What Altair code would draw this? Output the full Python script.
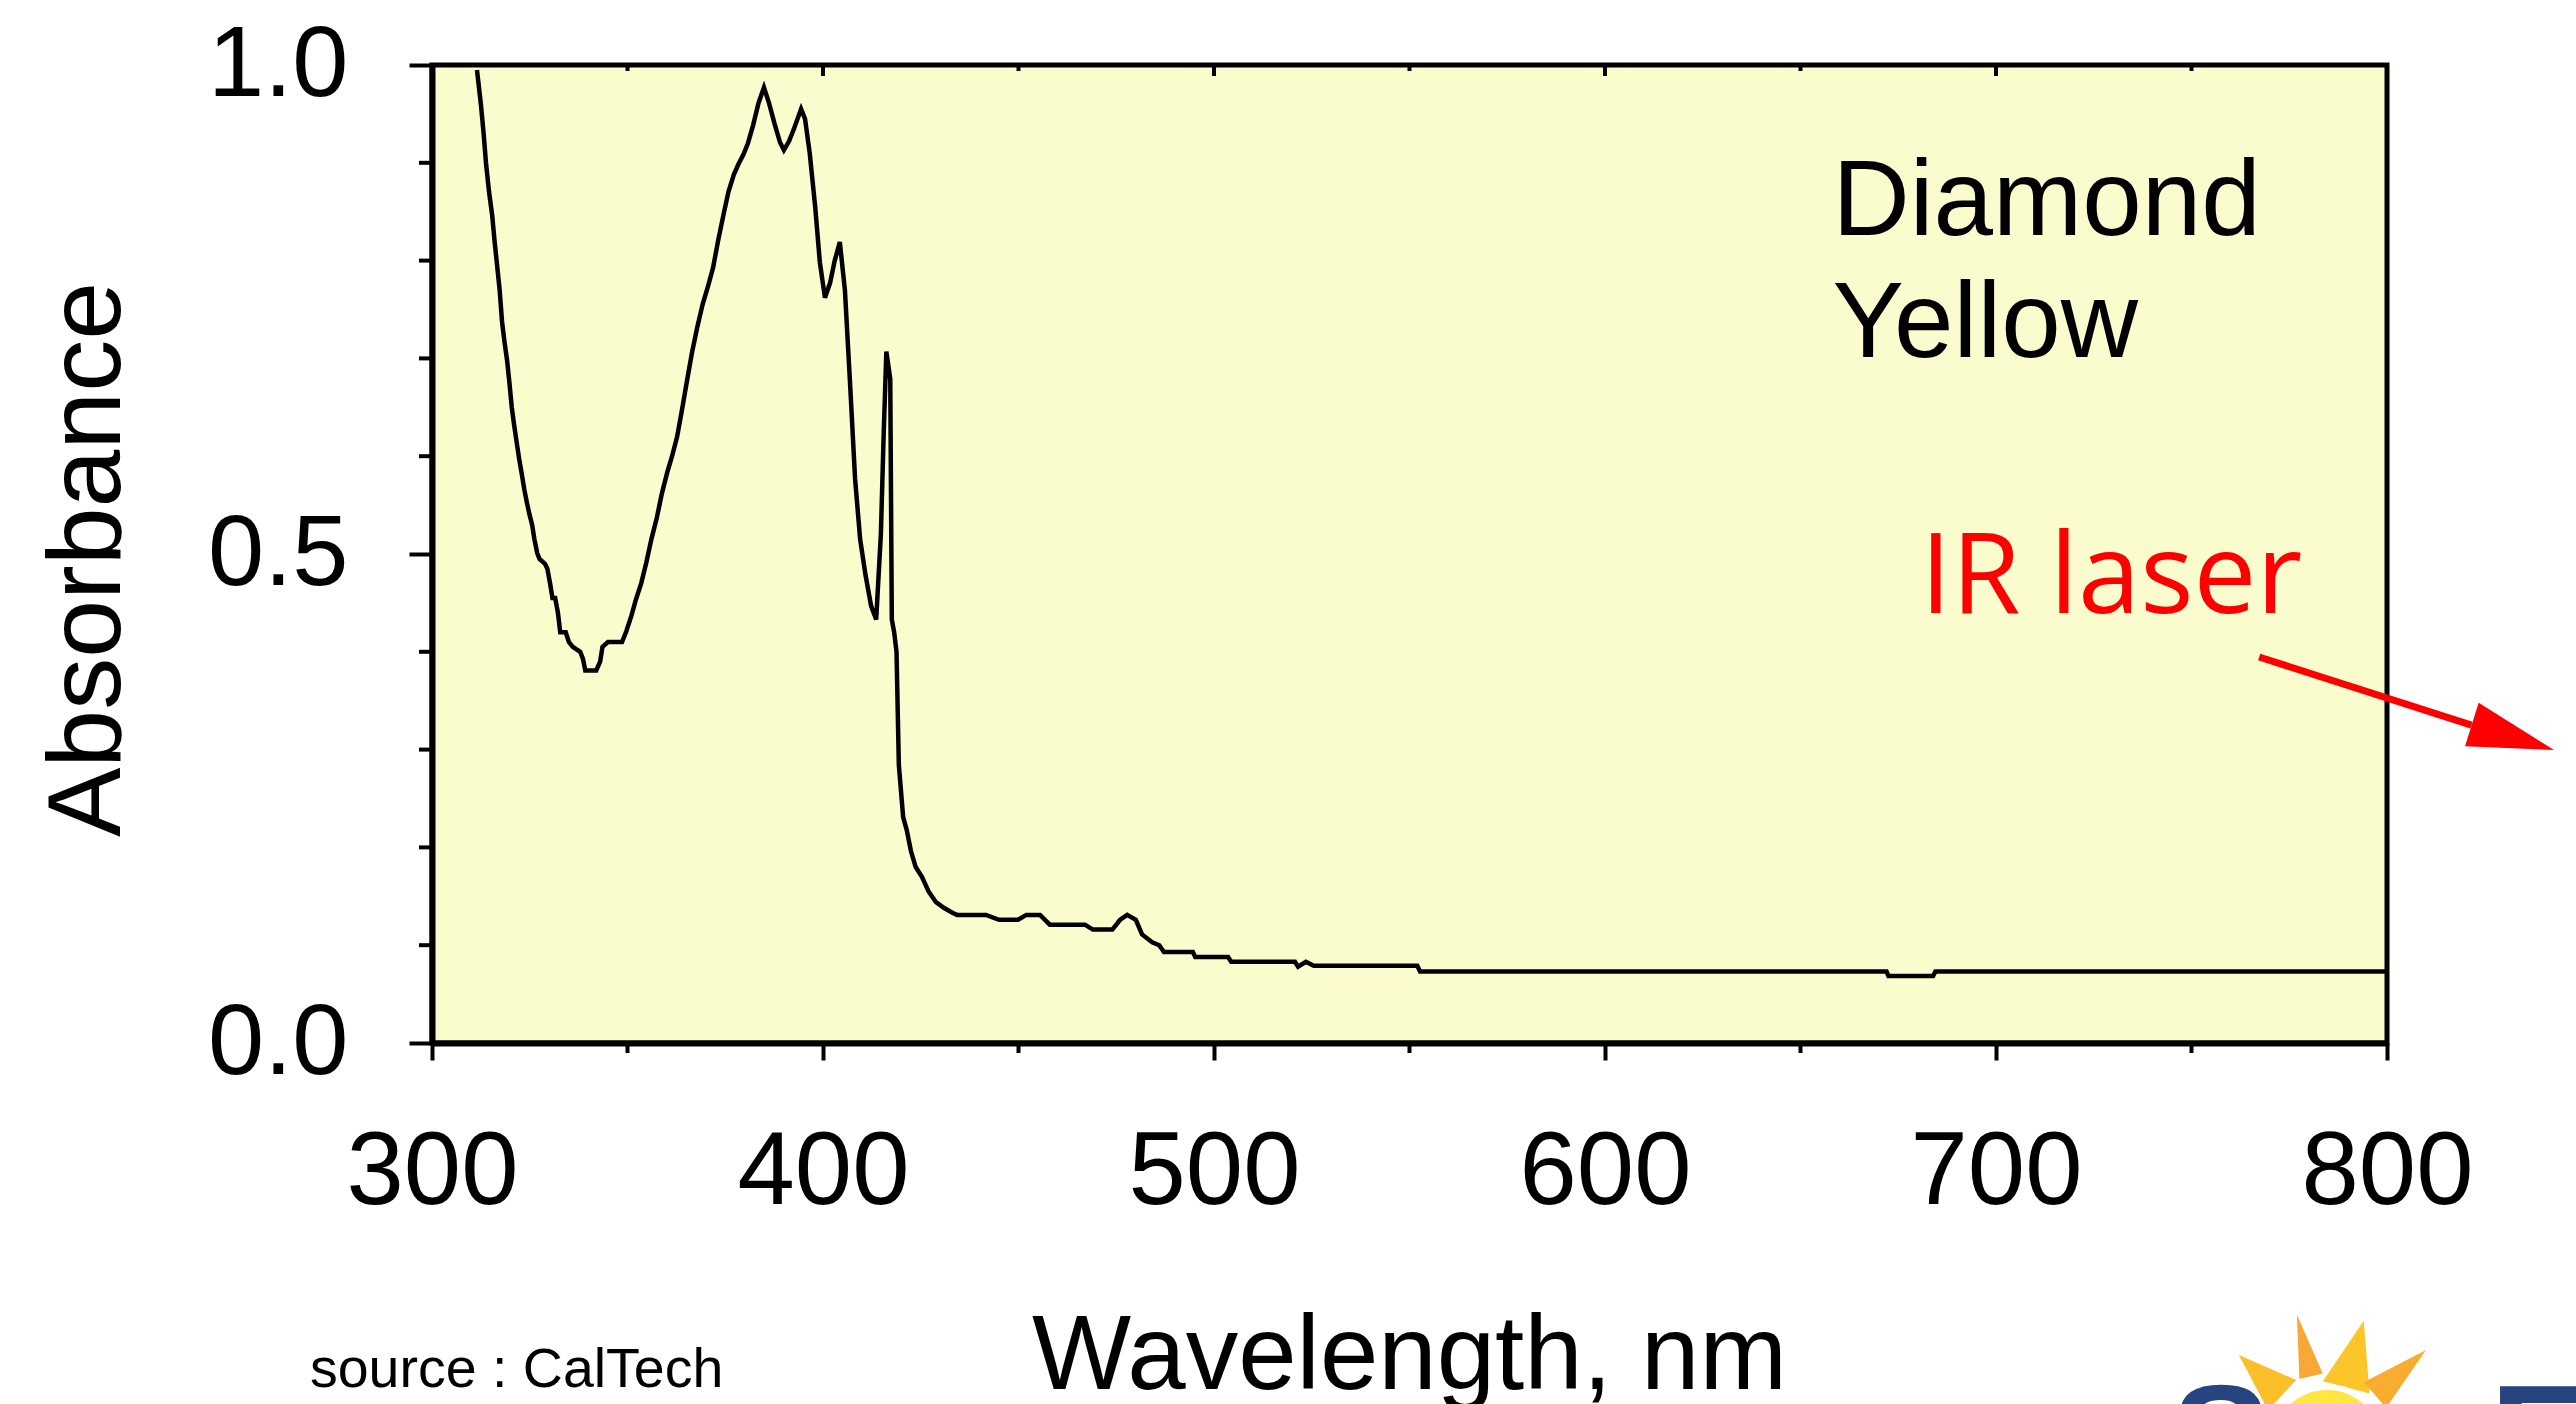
import altair as alt
import pandas as pd

# Absorption spectrum of a yellow diamond
wavelength = [
    311.5, 312.5, 313.2, 313.8, 314.6, 315.4, 316.0, 316.6, 317.3, 317.9,
    318.5, 319.2, 319.8, 320.4, 321.0, 321.7, 322.3, 323.0, 323.6, 324.3,
    324.9, 325.6, 326.2, 326.9, 327.5, 328.9, 329.5, 330.2, 330.8, 331.5,
    332.2, 332.8, 334.2, 335.0, 336.0, 337.9, 338.6, 339.2, 342.0, 343.0,
    343.6, 345.0, 348.6, 349.7, 351.0, 352.2, 353.5, 354.8, 356.1, 357.5,
    358.8, 360.2, 361.4, 362.7, 364.0, 365.3, 366.5, 367.8, 369.2, 370.6,
    371.9, 373.2, 374.5, 375.8, 377.2, 378.3, 379.7, 380.8, 382.1, 383.5,
    384.9, 386.2, 387.6, 389.0, 390.0, 391.3, 392.6, 394.4, 395.4, 396.6,
    398.0, 399.2, 400.5, 401.8, 403.0, 404.3, 405.6, 406.9, 408.2, 409.5,
    410.9, 412.3, 413.6, 414.8, 415.5, 416.2, 417.2, 417.6, 418.2, 418.8,
    419.4, 420.5, 421.4, 422.5, 423.7, 425.3, 427.0, 428.9, 431.0, 433.2,
    434.3, 441.7, 445.0, 449.9, 452.0, 455.5, 458.0, 467.0, 469.0, 474.0,
    476.0, 477.8, 480.0, 481.6, 484.2, 486.0, 487.2, 494.6, 495.2, 503.6,
    504.4, 520.7, 521.5, 523.5, 525.5, 552.0, 552.7, 672.0, 672.5, 683.9,
    684.5, 800.0,
]
absorbance = [
    0.995, 0.960, 0.930, 0.900, 0.870, 0.846, 0.820, 0.797, 0.770, 0.738,
    0.718, 0.698, 0.675, 0.650, 0.632, 0.613, 0.597, 0.581, 0.566, 0.552,
    0.541, 0.530, 0.515, 0.501, 0.495, 0.490, 0.485, 0.470, 0.455, 0.455,
    0.440, 0.420, 0.420, 0.410, 0.405, 0.400, 0.393, 0.381, 0.381, 0.390,
    0.405, 0.410, 0.410, 0.421, 0.437, 0.454, 0.470, 0.491, 0.515, 0.537,
    0.562, 0.584, 0.600, 0.620, 0.649, 0.679, 0.706, 0.731, 0.755, 0.774,
    0.793, 0.821, 0.846, 0.870, 0.888, 0.898, 0.909, 0.920, 0.938, 0.961,
    0.977, 0.961, 0.940, 0.921, 0.913, 0.922, 0.935, 0.955, 0.945, 0.910,
    0.855, 0.798, 0.762, 0.777, 0.800, 0.819, 0.770, 0.676, 0.577, 0.515,
    0.478, 0.447, 0.433, 0.520, 0.620, 0.707, 0.679, 0.433, 0.420, 0.400,
    0.284, 0.231, 0.218, 0.196, 0.180, 0.170, 0.155, 0.144, 0.138, 0.133,
    0.131, 0.131, 0.126, 0.126, 0.131, 0.131, 0.121, 0.121, 0.116, 0.116,
    0.126, 0.131, 0.126, 0.111, 0.103, 0.100, 0.093, 0.093, 0.088, 0.088,
    0.083, 0.083, 0.078, 0.083, 0.079, 0.079, 0.073, 0.073, 0.0685, 0.0685,
    0.073, 0.073,
]

# Axis ticks
x_major = [300, 400, 500, 600, 700, 800]
x_minor = [350, 450, 550, 650, 750]
y_major = [0.0, 0.5, 1.0]
y_minor = [0.1, 0.2, 0.3, 0.4, 0.6, 0.7, 0.8, 0.9]

# Annotations
sample_lines = ["Diamond", "Yellow"]
sample_y = [0.826, 0.701]
sample_x = 658.2
laser_text = "IR laser"
laser_x, laser_y = 680.6, 0.44
arrow_wl = [767.3, 821.6]
arrow_ab = [0.3947, 0.325]
arrow_head = (832.2, 0.3126)

W, H = 1955, 978
FONT = "Liberation Sans"
PAGE_FILL = "#FBFCCE"

xs = alt.Scale(domain=[300, 800], nice=False, zero=False)
ys = alt.Scale(domain=[0, 1], nice=False, zero=False)

spectrum = pd.DataFrame({"wl": wavelength, "ab": absorbance})

curve = alt.Chart(spectrum).mark_line(color="black", strokeWidth=4.5).encode(
    x=alt.X(
        "wl:Q", scale=xs,
        axis=alt.Axis(
            values=x_major, title="Wavelength, nm", grid=False,
            domainColor="black", domainWidth=6,
            tickColor="black", tickWidth=4, tickSize=17,
            labelFont=FONT, labelFontSize=103, labelColor="black",
            labelBaseline="alphabetic", labelPadding=143,
            labelFlush=False, labelOverlap=False, labelBound=False,
            titleFont=FONT, titleFontSize=105, titleFontWeight="normal",
            titleColor="black", titleX=977, titleY=345,
            titleAlign="center", titleBaseline="alphabetic",
        ),
    ),
    y=alt.Y(
        "ab:Q", scale=ys,
        axis=alt.Axis(
            values=y_major, format=".1f", title="Absorbance", grid=False,
            domainColor="black", domainWidth=6,
            tickColor="black", tickWidth=4, tickSize=23,
            labelFont=FONT, labelFontSize=101, labelColor="black",
            labelBaseline="middle", labelPadding=61,
            labelFlush=False, labelOverlap=False, labelBound=False,
            titleFont=FONT, titleFontSize=104, titleFontWeight="normal",
            titleColor="black", titleAngle=270, titleX=-313, titleY=494,
            titleAlign="center", titleBaseline="alphabetic",
        ),
    ),
)

# Minor ticks below the x axis
x_minor_ticks = alt.Chart(pd.DataFrame({"wl": x_minor})).mark_rule(
    color="black", strokeWidth=4
).encode(x=alt.X("wl:Q", scale=xs), y=alt.value(H), y2=alt.value(H + 10))

# Inward ticks along the top frame
top_major = alt.Chart(pd.DataFrame({"wl": x_major})).mark_rule(
    color="black", strokeWidth=4
).encode(x=alt.X("wl:Q", scale=xs), y=alt.value(0), y2=alt.value(11))
top_minor = alt.Chart(pd.DataFrame({"wl": x_minor})).mark_rule(
    color="black", strokeWidth=4
).encode(x=alt.X("wl:Q", scale=xs), y=alt.value(0), y2=alt.value(6))

# Minor ticks left of the y axis
y_minor_ticks = alt.Chart(pd.DataFrame({"ab": y_minor})).mark_rule(
    color="black", strokeWidth=4
).encode(y=alt.Y("ab:Q", scale=ys), x=alt.value(-13), x2=alt.value(0))

sample_label = alt.Chart(
    pd.DataFrame({"t": sample_lines, "ab": sample_y, "wl": [sample_x] * 2})
).mark_text(
    font=FONT, fontSize=107, color="black", align="left", baseline="alphabetic"
).encode(x=alt.X("wl:Q", scale=xs), y=alt.Y("ab:Q", scale=ys), text="t:N")

laser_label = alt.Chart(
    pd.DataFrame({"t": [laser_text], "wl": [laser_x], "ab": [laser_y]})
).mark_text(
    font="Open Sans", fontSize=112, color="#FF0000", align="left",
    baseline="alphabetic",
).encode(x=alt.X("wl:Q", scale=xs), y=alt.Y("ab:Q", scale=ys), text="t:N")

arrow_shaft = alt.Chart(pd.DataFrame({"wl": arrow_wl, "ab": arrow_ab})).mark_line(
    color="#FF0000", strokeWidth=7, strokeCap="butt"
).encode(x=alt.X("wl:Q", scale=xs), y=alt.Y("ab:Q", scale=ys))

arrow_tip = alt.Chart(
    pd.DataFrame({"wl": [arrow_head[0]], "ab": [arrow_head[1]]})
).mark_point(
    shape="M 1 0 L -1 -0.53 L -1 0.53 Z", filled=True, fill="#FF0000",
    stroke="#FF0000", strokeWidth=0, size=7396, angle=17.3, opacity=1,
).encode(x=alt.X("wl:Q", scale=xs), y=alt.Y("ab:Q", scale=ys))

source_note = alt.Chart(pd.DataFrame({"t": ["source : CalTech"]})).mark_text(
    font=FONT, fontSize=55.5, color="black", align="left", baseline="alphabetic"
).encode(x=alt.value(-122), y=alt.value(1322), text="t:N")

# Corner logo (only its top edge shows at the bottom of the page)
NAVY = "#26457F"
logo_letters = alt.Chart(
    pd.DataFrame({"t": ["S", "E"], "px": [1739, 2058], "py": [1425, 1425]})
).mark_text(
    font=FONT, fontSize=150, fontWeight="bold", color=NAVY,
    align="left", baseline="alphabetic",
).encode(
    x=alt.X("px:Q", scale=None, axis=None),
    y=alt.Y("py:Q", scale=None, axis=None),
    text="t:N",
)

rays = pd.DataFrame({
    "px": [1828.5, 1872.0, 1923.0, 1968.5],
    "py": [1310.0, 1280.5, 1289.0, 1307.5],
    "size": [3481, 3969, 4761, 4624],
    "angle": [313.0, 347.0, 14.7, 48.6],
    "path": [
        "M 0 -1 L 0.7 1 L -0.7 1 Z",
        "M 0 -1 L 0.38 1 L -0.38 1 Z",
        "M 0 -1 L 0.7 1 L -0.7 1 Z",
        "M 0 -1 L 0.5 1 L -0.5 1 Z",
    ],
    "col": ["#FBBF2A", "#F8A834", "#FCC62A", "#F9AD30"],
})
logo_rays = alt.Chart(rays).mark_point(filled=True, opacity=1, strokeWidth=0).encode(
    x=alt.X("px:Q", scale=None, axis=None),
    y=alt.Y("py:Q", scale=None, axis=None),
    size=alt.Size("size:Q", scale=None, legend=None),
    angle=alt.Angle("angle:Q", scale=None),
    shape=alt.Shape("path:N", scale=None, legend=None),
    fill=alt.Fill("col:N", scale=None, legend=None),
)
sun = pd.DataFrame({
    "px": [1895, 1895], "py": [1380, 1380],
    "size": [14884, 12100], "col": ["#FFFFFF", "#FFE640"],
})
logo_sun = alt.Chart(sun).mark_point(
    shape="circle", filled=True, opacity=1, strokeWidth=0
).encode(
    x=alt.X("px:Q", scale=None, axis=None),
    y=alt.Y("py:Q", scale=None, axis=None),
    size=alt.Size("size:Q", scale=None, legend=None),
    fill=alt.Fill("col:N", scale=None, legend=None),
)

chart = alt.layer(
    curve, x_minor_ticks, top_major, top_minor, y_minor_ticks,
    sample_label, laser_label, arrow_shaft, arrow_tip, source_note,
    logo_letters, logo_rays, logo_sun,
).properties(
    width=W, height=H,
    autosize=alt.AutoSizeParams(type="none"),
    padding={"left": 432, "top": 65, "right": 189, "bottom": 361},
    background="white",
).configure_view(
    fill=PAGE_FILL, stroke="black", strokeWidth=5
)

chart.save("out.html", embed_options={"renderer": "svg", "actions": False})
